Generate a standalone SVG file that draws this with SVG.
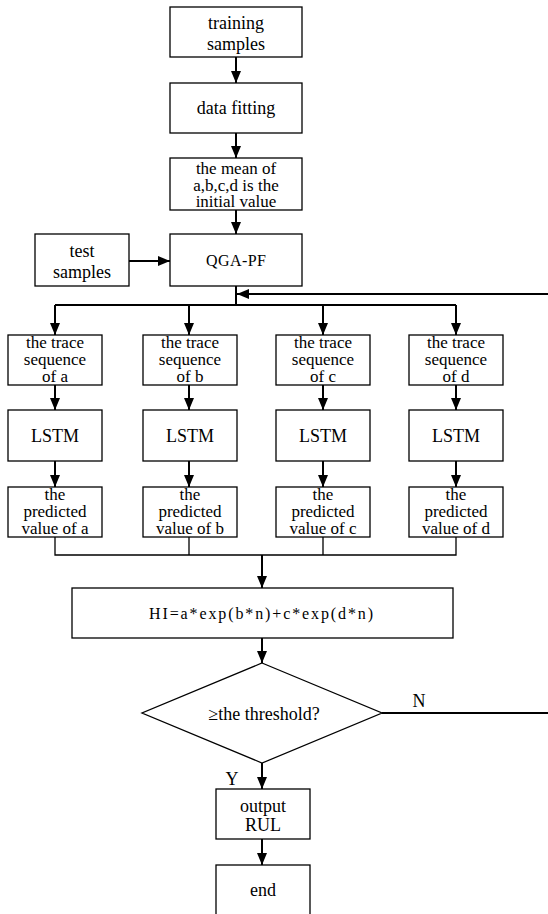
<svg xmlns="http://www.w3.org/2000/svg" width="548" height="914" viewBox="0 0 548 914">
<style>
.box{fill:#fff;stroke:#000;stroke-width:1.3}
.t{font-family:"Liberation Serif","Times New Roman",serif;font-size:18px;fill:#000;text-anchor:middle}
.s{font-size:17px}
.m{font-family:"Liberation Serif","Times New Roman",serif;fill:#000;text-anchor:middle}
.c{fill:none;stroke:#000;stroke-width:2}
.thin{fill:none;stroke:#000;stroke-width:1.3}
</style>
<defs>
<marker id="ah" markerUnits="userSpaceOnUse" markerWidth="12" markerHeight="12" viewBox="0 0 12 12" refX="12" refY="6" orient="auto">
<path d="M0,1 L12,6 L0,11 Z" fill="#000"/>
</marker>
</defs>
<rect width="548" height="914" fill="#fff"/>
<g id="connectors">
<path class="c" d="M236,57 V83" marker-end="url(#ah)"/>
<path class="c" d="M236,133 V158" marker-end="url(#ah)"/>
<path class="c" d="M236,210 V234" marker-end="url(#ah)"/>
<path class="c" d="M129,261 H170" marker-end="url(#ah)"/>
<path class="c" d="M236,286 V305"/>
<path class="c" d="M55,305 H456"/>
<path class="c" d="M548,294 H237" marker-end="url(#ah)"/>
<path class="c" d="M55,305 V335" marker-end="url(#ah)"/>
<path class="c" d="M189,305 V335" marker-end="url(#ah)"/>
<path class="c" d="M323,305 V335" marker-end="url(#ah)"/>
<path class="c" d="M456,305 V335" marker-end="url(#ah)"/>
<path class="c" d="M55,385 V410" marker-end="url(#ah)"/>
<path class="c" d="M189,385 V410" marker-end="url(#ah)"/>
<path class="c" d="M323,385 V410" marker-end="url(#ah)"/>
<path class="c" d="M456,385 V410" marker-end="url(#ah)"/>
<path class="c" d="M55,461 V487" marker-end="url(#ah)"/>
<path class="c" d="M189,461 V487" marker-end="url(#ah)"/>
<path class="c" d="M323,461 V487" marker-end="url(#ah)"/>
<path class="c" d="M456,461 V487" marker-end="url(#ah)"/>
<path class="thin" d="M55,537 V555 H456 V537 M189,537 V555 M323,537 V555"/>
<path class="c" d="M262,555 V588" marker-end="url(#ah)"/>
<path class="c" d="M262,638 V663" marker-end="url(#ah)"/>
<path class="c" d="M382,713 H548"/>
<path class="c" d="M262,763 V789" marker-end="url(#ah)"/>
<path class="c" d="M262,839 V865" marker-end="url(#ah)"/>
<text class="t" x="419" y="707">N</text>
<text class="t" x="232" y="785">Y</text>
</g>
<g id="training">
<rect class="box" x="170" y="7" width="132" height="50"/>
<text class="t" x="236" y="29">training</text>
<text class="t" x="236" y="50">samples</text>
</g>
<g id="fitting">
<rect class="box" x="170" y="83" width="132" height="50"/>
<text class="t" x="236" y="114">data fitting</text>
</g>
<g id="mean">
<rect class="box" x="170" y="158" width="132" height="52"/>
<text class="t s" x="236" y="174">the mean of</text>
<text class="t s" x="236" y="191">a,b,c,d is the</text>
<text class="t s" x="236" y="207">initial value</text>
</g>
<g id="test">
<rect class="box" x="35" y="234" width="94" height="52"/>
<text class="t" x="82" y="257">test</text>
<text class="t" x="82" y="278">samples</text>
</g>
<g id="qgapf">
<rect class="box" x="170" y="234" width="132" height="52"/>
<text class="m" x="236" y="266" style="font-size:16px" textLength="60" lengthAdjust="spacing">QGA-PF</text>
</g>
<g id="trace-a">
<rect class="box" x="8" y="335" width="94" height="50"/>
<text class="t s" x="55" y="348">the trace</text>
<text class="t s" x="55" y="365">sequence</text>
<text class="t s" x="55" y="382">of a</text>
</g>
<g id="trace-b">
<rect class="box" x="143" y="335" width="94" height="50"/>
<text class="t s" x="190" y="348">the trace</text>
<text class="t s" x="190" y="365">sequence</text>
<text class="t s" x="190" y="382">of b</text>
</g>
<g id="trace-c">
<rect class="box" x="276" y="335" width="94" height="50"/>
<text class="t s" x="323" y="348">the trace</text>
<text class="t s" x="323" y="365">sequence</text>
<text class="t s" x="323" y="382">of c</text>
</g>
<g id="trace-d">
<rect class="box" x="409" y="335" width="94" height="50"/>
<text class="t s" x="456" y="348">the trace</text>
<text class="t s" x="456" y="365">sequence</text>
<text class="t s" x="456" y="382">of d</text>
</g>
<g id="lstm-a">
<rect class="box" x="8" y="410" width="94" height="51"/>
<text class="t" x="55" y="442">LSTM</text>
</g>
<g id="lstm-b">
<rect class="box" x="143" y="410" width="94" height="51"/>
<text class="t" x="190" y="442">LSTM</text>
</g>
<g id="lstm-c">
<rect class="box" x="276" y="410" width="94" height="51"/>
<text class="t" x="323" y="442">LSTM</text>
</g>
<g id="lstm-d">
<rect class="box" x="409" y="410" width="94" height="51"/>
<text class="t" x="456" y="442">LSTM</text>
</g>
<g id="pred-a">
<rect class="box" x="8" y="487" width="94" height="50"/>
<text class="t s" x="55" y="500">the</text>
<text class="t s" x="55" y="517">predicted</text>
<text class="t s" x="55" y="534">value of a</text>
</g>
<g id="pred-b">
<rect class="box" x="143" y="487" width="94" height="50"/>
<text class="t s" x="190" y="500">the</text>
<text class="t s" x="190" y="517">predicted</text>
<text class="t s" x="190" y="534">value of b</text>
</g>
<g id="pred-c">
<rect class="box" x="276" y="487" width="94" height="50"/>
<text class="t s" x="323" y="500">the</text>
<text class="t s" x="323" y="517">predicted</text>
<text class="t s" x="323" y="534">value of c</text>
</g>
<g id="pred-d">
<rect class="box" x="409" y="487" width="94" height="50"/>
<text class="t s" x="456" y="500">the</text>
<text class="t s" x="456" y="517">predicted</text>
<text class="t s" x="456" y="534">value of d</text>
</g>
<g id="hi">
<rect class="box" x="72" y="588" width="381" height="50"/>
<text class="m" x="261" y="619" style="font-size:16px" textLength="224" lengthAdjust="spacing">HI=a*exp(b*n)+c*exp(d*n)</text>
</g>
<g id="decision">
<polygon class="box" points="262,663 382,713 262,763 142,713"/>
<text class="t" x="264" y="720">≥the threshold?</text>
</g>
<g id="output">
<rect class="box" x="216" y="789" width="94" height="50"/>
<text class="t" x="263" y="812">output</text>
<text class="t" x="263" y="831">RUL</text>
</g>
<g id="end">
<rect class="box" x="216" y="865" width="94" height="60"/>
<text class="t" x="263" y="896">end</text>
</g>
</svg>
